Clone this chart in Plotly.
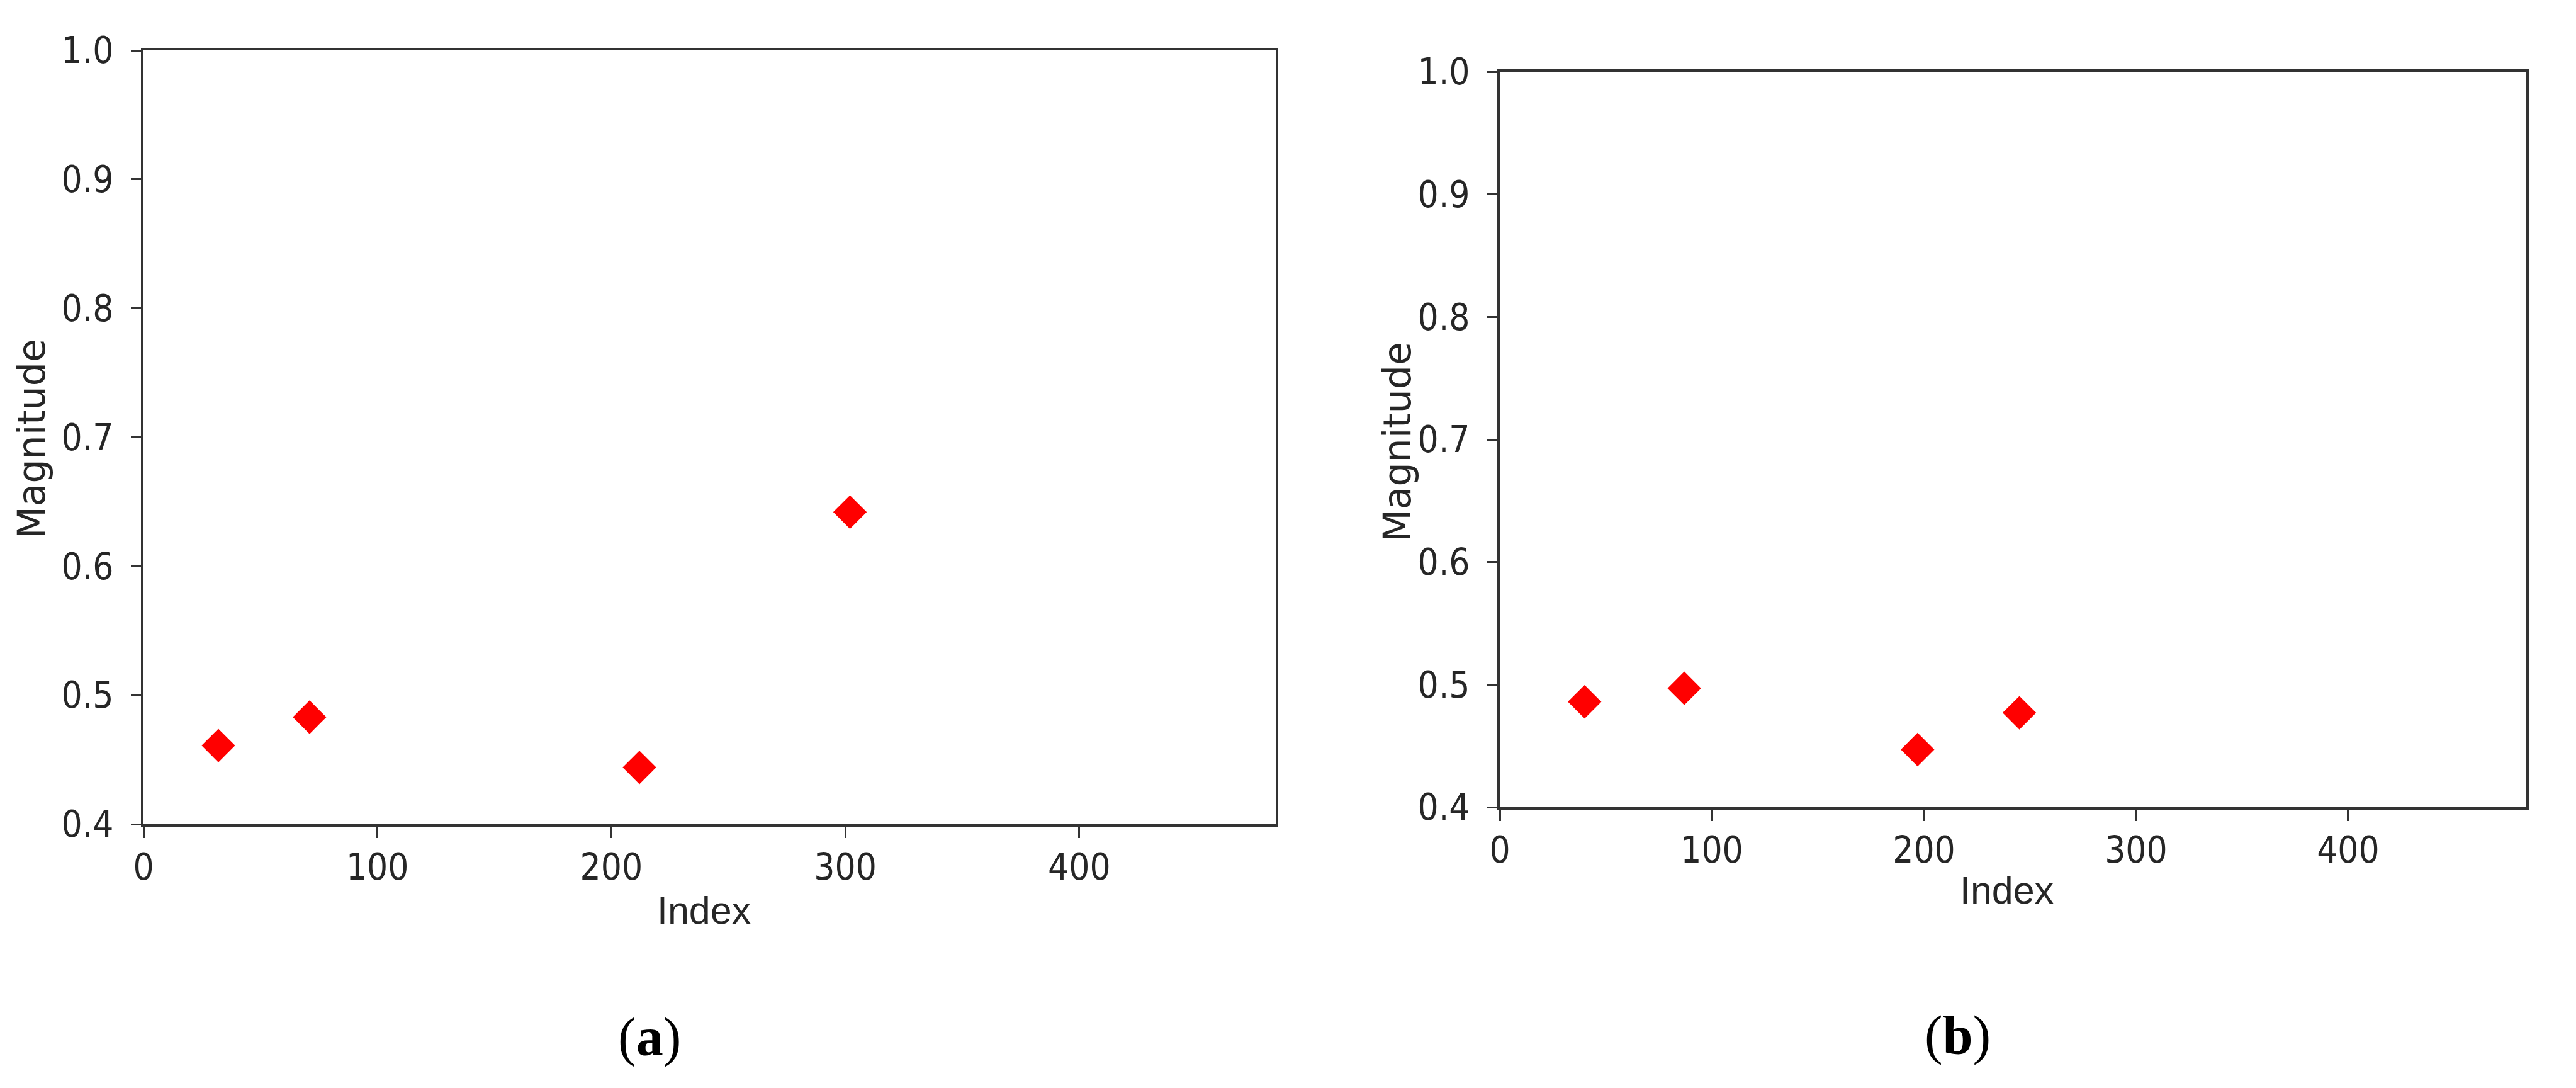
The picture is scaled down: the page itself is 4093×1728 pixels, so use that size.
import plotly.graph_objects as go

# Data
idx_a = [32, 71, 212, 302]
mag_a = [0.461, 0.483, 0.444, 0.642]
idx_b = [40, 87, 197, 245]
mag_b = [0.486, 0.497, 0.447, 0.477]

x_ticks = [0, 100, 200, 300, 400]
y_ticks = [0.4, 0.5, 0.6, 0.7, 0.8, 0.9, 1.0]
x_range = [0, 484]
y_range = [0.4, 1.0]

W, H = 4093, 1728

fig = go.Figure()
fig.add_trace(go.Scatter(x=idx_a, y=mag_a, mode="markers",
                         marker=dict(symbol="diamond", size=41, color="#ff0000"),
                         xaxis="x", yaxis="y", showlegend=False))
fig.add_trace(go.Scatter(x=idx_b, y=mag_b, mode="markers",
                         marker=dict(symbol="diamond", size=41, color="#ff0000"),
                         xaxis="x2", yaxis="y2", showlegend=False))

tick_font = dict(family="Liberation Sans Narrow, DejaVu Sans Condensed, Liberation Sans", size=58, color="#262626")
line_col = "#333333"

def xax(domain, anchor):
    return dict(domain=domain, anchor=anchor, range=x_range, tickvals=x_ticks,
                ticks="outside", ticklen=18, tickwidth=3, tickcolor=line_col,
                showline=True, linewidth=4, linecolor=line_col, mirror=True,
                showgrid=False, zeroline=False, tickfont=tick_font, ticklabelstandoff=-4,
                automargin=False)

def yax(domain, anchor):
    return dict(domain=domain, anchor=anchor, range=y_range, tickvals=y_ticks,
                tickformat=".1f",
                ticks="outside", ticklen=16, tickwidth=3, tickcolor=line_col,
                showline=True, linewidth=4, linecolor=line_col, mirror=True,
                showgrid=False, zeroline=False, tickfont=tick_font, ticklabelstandoff=16,
                automargin=False)

fig.update_layout(
    width=W, height=H,
    margin=dict(l=0, r=0, t=0, b=0, pad=0, autoexpand=False),
    paper_bgcolor="white", plot_bgcolor="white",
    xaxis=xax([228 / W, 2027 / W], "y"),
    yaxis=yax([1 - 1309 / H, 1 - 80 / H], "x"),
    xaxis2=xax([2383 / W, 4014 / W], "y2"),
    yaxis2=yax([1 - 1282 / H, 1 - 114 / H], "x2"),
)

title_font = dict(family="Liberation Sans, Arial", size=61, color="#262626")
ylab_font = dict(family="DejaVu Sans", size=60, color="#262626")
cap_font = dict(family="Liberation Serif, Times New Roman", size=86, color="black")

ann = []
# x titles
ann.append(dict(text="Index", x=1118 / W, y=1 - 1446 / H, xref="paper", yref="paper",
                xanchor="center", yanchor="middle", showarrow=False, font=title_font))
ann.append(dict(text="Index", x=3188 / W, y=1 - 1414 / H, xref="paper", yref="paper",
                xanchor="center", yanchor="middle", showarrow=False, font=title_font))
# y titles
ann.append(dict(text="Magnitude", x=50 / W, y=1 - 697 / H, xref="paper", yref="paper",
                xanchor="center", yanchor="middle", textangle=-90, showarrow=False, font=ylab_font))
ann.append(dict(text="Magnitude", x=2220 / W, y=1 - 702 / H, xref="paper", yref="paper",
                xanchor="center", yanchor="middle", textangle=-90, showarrow=False, font=ylab_font))
# captions
ann.append(dict(text="(<b>a</b>)", x=1032 / W, y=1 - 1647 / H, xref="paper", yref="paper",
                xanchor="center", yanchor="middle", showarrow=False, font=cap_font))
ann.append(dict(text="(<b>b</b>)", x=3110 / W, y=1 - 1644 / H, xref="paper", yref="paper",
                xanchor="center", yanchor="middle", showarrow=False, font=cap_font))
fig.update_layout(annotations=ann)

fig.write_html("out.html", config={"displayModeBar": False},
               post_script="document.body.style.margin='0';document.body.style.overflow='hidden';")
